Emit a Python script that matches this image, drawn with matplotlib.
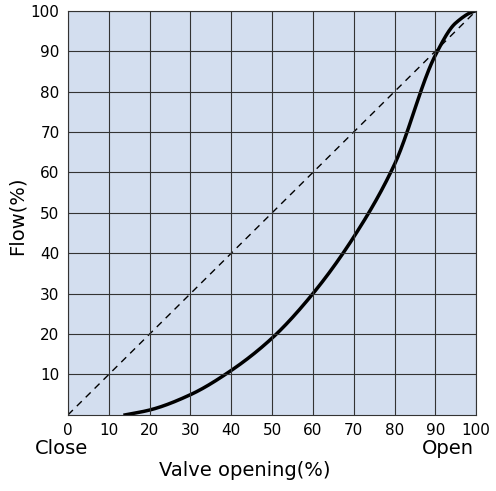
import matplotlib.pyplot as plt
import numpy as np

# valve characteristic
opening = [14, 20, 30, 40, 50, 60, 70, 80, 90, 95, 100]
flow = [0, 1.2, 5, 11, 19, 30, 44, 62, 89, 97, 100]
xticks = list(range(0, 101, 10))
yticks = list(range(10, 101, 10))


def pchip(x, y, xn):
    # monotone cubic through the read points
    x = np.asarray(x, float)
    y = np.asarray(y, float)
    h = np.diff(x)
    d = np.diff(y) / h
    m = np.zeros_like(y)
    for i in range(1, len(x) - 1):
        if d[i - 1] * d[i] > 0:
            w1 = 2 * h[i] + h[i - 1]
            w2 = h[i] + 2 * h[i - 1]
            m[i] = (w1 + w2) / (w1 / d[i - 1] + w2 / d[i])
    m[0] = d[0]
    m[-1] = d[-1] * 0.3
    idx = np.clip(np.searchsorted(x, xn) - 1, 0, len(h) - 1)
    t = (xn - x[idx]) / h[idx]
    h00 = 2 * t**3 - 3 * t**2 + 1
    h10 = t**3 - 2 * t**2 + t
    h01 = -2 * t**3 + 3 * t**2
    h11 = t**3 - t**2
    return (h00 * y[idx] + h10 * h[idx] * m[idx]
            + h01 * y[idx + 1] + h11 * h[idx] * m[idx + 1])


fig = plt.figure(figsize=(4.96, 4.91), dpi=100)
ax = fig.add_axes([0.137, 0.155, 0.823, 0.823])
ax.set_facecolor('#d3deef')

ax.plot([0, 100], [0, 100], 'k--', lw=1, dashes=(5, 4))
xx = np.linspace(14, 100, 400)
ax.plot(xx, pchip(opening, flow, xx), color='black', lw=2.5)

ax.set_xlim(0, 100)
ax.set_ylim(0, 100)
ax.set_xticks(xticks)
ax.set_yticks(yticks)
ax.tick_params(length=0, labelsize=11, pad=6)
ax.grid(True, color='#333333', lw=0.8)
ax.set_axisbelow(False)
for s in ax.spines.values():
    s.set_color('#333333')

fig.text(0.07, 0.075, 'Close', fontsize=14)
fig.text(0.85, 0.075, 'Open', fontsize=14)
fig.text(0.32, 0.03, 'Valve opening(%)', fontsize=14)
fig.text(0.015, 0.56, 'Flow(%)', fontsize=14, rotation=90, va='center')

fig.savefig('out.png')
